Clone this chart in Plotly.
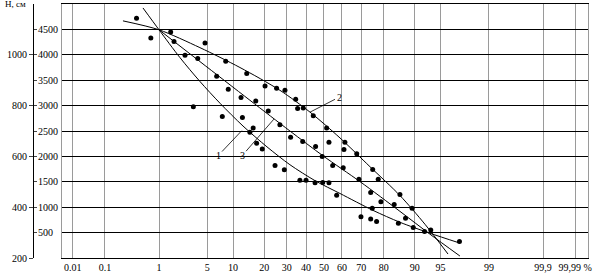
import plotly.graph_objects as go
from statistics import NormalDist

# ---- data (probability %, H value on the inner scale) ----
pts_pct = [0.41, 0.73, 1.53, 1.72, 4.67, 2.50, 3.75, 8.29, 6.51, 13.8, 8.85, 20.3, 25.2, 29.1,
           12.1, 16.8, 34.5, 3.27, 21.6, 35.5, 38.5, 44.0, 7.58, 12.5, 26.7, 15.9, 14.8, 51.5,
           17.1, 19.2, 24.5, 28.8, 31.9, 38.2, 45.3, 52.8, 49.0, 54.9, 61.6, 61.1, 67.8, 60.7,
           36.7, 40.0, 45.0, 49.3, 52.8, 57.1, 68.9, 75.4, 77.8, 74.5, 75.2, 78.9, 83.9, 69.9,
           74.5, 77.1, 85.8, 89.3, 87.5, 85.3, 89.6, 92.2, 93.4, 97.2]
pts_val = [4721, 4330, 4447, 4264, 4232, 3990, 3926, 3873, 3580, 3633, 3320, 3385, 3340, 3301,
           3158, 3092, 3125, 2975, 2896, 2943, 2955, 2799, 2787, 2768, 2623, 2559, 2475, 2559,
           2260, 2148, 1822, 1738, 2377, 2291, 2193, 2279, 1998, 1822, 2279, 2135, 2051, 1777,
           1529, 1529, 1479, 1484, 1479, 1236, 1549, 1744, 1549, 1289, 977, 1107, 1055, 814,
           768, 717, 1250, 977, 781, 684, 600, 521, 553, 326]

curve1_pct = [0.534, 1.0, 2.11, 4.0, 7.12, 12.67, 21.07, 31.56, 44.95, 58.94, 75.52, 85.81, 93.25, 97.24]
curve1_val = [4922, 4492, 3945, 3477, 3047, 2598, 2188, 1836, 1523, 1270, 938, 703, 488, 293]

curve2_pct = [0.229, 1.0, 4.01, 11.8, 26.73, 42.19, 58.94, 74.18, 85.81, 92.29, 95.99]
curve2_val = [4668, 4492, 4141, 3750, 3301, 2871, 2363, 1797, 1230, 664, 78]

curve3_pct = [1.0, 4.01, 14.82, 31.56, 49.44, 69.43, 85.81, 93.25, 97.24]
curve3_val = [4492, 3867, 3105, 2500, 2012, 1504, 918, 469, 39]

x_tick_pct = [0.01, 0.1, 1, 5, 10, 20, 30, 40, 50, 60, 70, 80, 90, 95, 99, 99.9, 99.99]
x_tick_text = ["0.01", "0.1", "1", "5", "10", "20", "30", "40", "50", "60", "70", "80",
               "90", "95", "99", "99,9", "99,99 %"]
y_inner_ticks = [500, 1000, 1500, 2000, 2500, 3000, 3500, 4000, 4500]
y_outer_ticks = [200, 400, 600, 800, 1000]

labels_text = ["1", "3", "2"]
labels_tip_pct = [12.3, 24.0, 42.2]
labels_tip_val = [2506, 2734, 2871]
labels_txt_pct = [6.75, 12.4, 58.4]
labels_txt_val = [2012, 2012, 3164]

ND = NormalDist()


def paper_x(p):
    """probability (%) -> coordinate on the probability paper"""
    z = ND.inv_cdf(p / 100.0)
    if abs(z) > 3.09:
        s = 1 if z > 0 else -1
        z = s * (3.09 + (abs(z) - 3.09) * 0.72)
    return z


FONT = "Liberation Serif"
W, H = 595, 273
ML, MR, MT, MB = 0, 7, 4, 13
PW = W - ML - MR
x0 = 62 / PW
axis_pos = 33 / PW

fig = go.Figure()

for cp, cv in [(curve1_pct, curve1_val), (curve2_pct, curve2_val), (curve3_pct, curve3_val)]:
    fig.add_trace(go.Scatter(x=[paper_x(p) for p in cp], y=cv, mode="lines",
                             line=dict(color="black", width=1, shape="spline", smoothing=0.8),
                             showlegend=False, hoverinfo="skip"))

fig.add_trace(go.Scatter(x=[paper_x(p) for p in pts_pct], y=pts_val, mode="markers",
                         marker=dict(color="black", size=5), showlegend=False))

# empty traces so that the extra label axes are created
fig.add_trace(go.Scatter(x=[], y=[], yaxis="y2", showlegend=False))
fig.add_trace(go.Scatter(x=[], y=[], yaxis="y3", showlegend=False))

for t, tp, tv, ap, av in zip(labels_text, labels_tip_pct, labels_tip_val, labels_txt_pct, labels_txt_val):
    fig.add_annotation(x=paper_x(tp), y=tv, ax=paper_x(ap), ay=av, axref="x", ayref="y",
                       text=t, showarrow=True, arrowhead=0, arrowwidth=0.8, arrowcolor="black",
                       font=dict(family=FONT, size=10, color="black"))

fig.add_annotation(x=3 / PW, y=1.0, xref="paper", yref="paper", xanchor="left", yanchor="middle",
                   text="H, см", showarrow=False, font=dict(family=FONT, size=9, color="black"))

fig.update_layout(
    width=W, height=H, margin=dict(l=ML, r=MR, t=MT, b=MB),
    paper_bgcolor="white", plot_bgcolor="white",
    font=dict(family=FONT, size=10, color="black"),
    xaxis=dict(domain=[x0, 1], range=[-3.695, 3.724],
               tickvals=[paper_x(p) for p in x_tick_pct], ticktext=x_tick_text,
               showgrid=True, gridcolor="#9a9a9a", gridwidth=1, zeroline=False,
               showline=True, linecolor="black", linewidth=1.3, mirror=True, ticks="",
               tickfont=dict(family=FONT, size=10, color="black")),
    yaxis=dict(range=[0, 5000], tickvals=y_inner_ticks, showticklabels=False, ticks="",
               showgrid=True, gridcolor="black", gridwidth=1.3, zeroline=False,
               showline=True, mirror=True, linecolor="#9a9a9a", linewidth=1),
    yaxis2=dict(overlaying="y", anchor="free", position=axis_pos, side="left",
                range=[0, 5000], tickvals=y_inner_ticks, ticklabelposition="inside",
                ticks="inside", ticklen=3, showgrid=False, zeroline=False,
                showline=True, linecolor="black", linewidth=1,
                tickfont=dict(family=FONT, size=10, color="black")),
    yaxis3=dict(overlaying="y", anchor="free", position=axis_pos, side="left",
                range=[200, 1200], tickvals=y_outer_ticks, ticks="outside", ticklen=4,
                showgrid=False, zeroline=False, showline=False,
                tickfont=dict(family=FONT, size=10, color="black")),
)

fig.write_html("out.html")
